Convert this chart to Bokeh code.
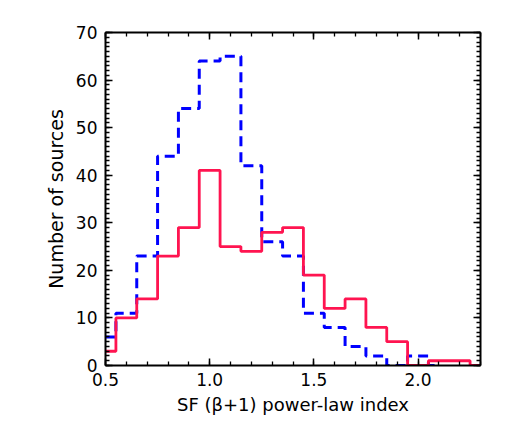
from bokeh.plotting import figure
from bokeh.models import Range1d, LinearAxis, FixedTicker
from bokeh.embed import file_html
from bokeh.resources import INLINE

# ---- data ----
red_centers = [0.5, 0.6, 0.7, 0.8, 0.9, 1.0, 1.1, 1.2, 1.3, 1.4, 1.5, 1.6, 1.7, 1.8, 1.9, 2.0, 2.1, 2.2, 2.3]
red_counts = [3, 10, 14, 23, 29, 41, 25, 24, 28, 29, 19, 12, 14, 8, 5, 0, 1, 1, 0]

blue_centers = [0.5, 0.6, 0.7, 0.8, 0.9, 1.0, 1.1, 1.2, 1.3, 1.4, 1.5, 1.6, 1.7, 1.8, 1.9, 2.0, 2.1]
blue_counts = [6, 11, 23, 44, 54, 64, 65, 42, 26, 23, 11, 8, 4, 2, 0, 2, 0]

x_ticks = [0.5, 1.0, 1.5, 2.0]
x_tick_labels = ["0.5", "1.0", "1.5", "2.0"]
x_minor = [round(0.5 + 0.1 * i, 2) for i in range(19)]
y_ticks = [0, 10, 20, 30, 40, 50, 60, 70]
y_minor = list(range(0, 71))

x_title = "SF (\u03b2+1) power-law index"
y_title = "Number of sources"

FONT = "DejaVu Sans"

p = figure(width=500, height=420, output_backend="svg", toolbar_location=None,
           x_range=Range1d(0.5, 2.3), y_range=Range1d(0, 70),
           x_axis_location=None, y_axis_location=None,
           min_border_left=105, min_border_right=20, min_border_top=32, min_border_bottom=55)
p.grid.visible = False
p.outline_line_color = None
p.background_fill_color = "white"
p.border_fill_color = "white"

p.step(x=blue_centers, y=blue_counts, mode="center", line_color="#0000ff",
       line_width=3, line_dash="10 6")
p.step(x=red_centers, y=red_counts, mode="center", line_color="#ff1450",
       line_width=2.8)

xt = FixedTicker(ticks=x_ticks, minor_ticks=x_minor)
yt = FixedTicker(ticks=y_ticks, minor_ticks=y_minor)


def style(ax, show):
    ax.axis_line_width = 2
    ax.axis_line_color = "black"
    ax.major_tick_in = 7
    ax.major_tick_out = 0
    ax.minor_tick_in = 4
    ax.minor_tick_out = 0
    ax.major_tick_line_width = 1.5
    ax.minor_tick_line_width = 1.3
    ax.major_tick_line_color = "black"
    ax.minor_tick_line_color = "black"
    ax.major_label_text_font = FONT
    ax.major_label_text_font_size = "17px"
    ax.major_label_text_color = "black"
    if show:
        ax.axis_label_text_font = FONT
        ax.axis_label_text_font_style = "normal"
        ax.axis_label_text_color = "black"
    else:
        ax.major_label_standoff = 0


bottom = LinearAxis(ticker=xt, axis_label=x_title,
                    major_label_overrides={t: l for t, l in zip(x_ticks, x_tick_labels)})
style(bottom, True)
bottom.axis_label_text_font_size = "18px"
bottom.major_label_standoff = 7
bottom.axis_label_standoff = 5
p.add_layout(bottom, "below")

left = LinearAxis(ticker=yt, axis_label=y_title)
style(left, True)
left.axis_label_text_font_size = "19px"
left.major_label_standoff = 8
left.axis_label_standoff = 6
p.add_layout(left, "left")

top = LinearAxis(ticker=xt, major_label_overrides={t: "" for t in x_ticks})
style(top, False)
p.add_layout(top, "above")

right = LinearAxis(ticker=yt, major_label_overrides={t: "" for t in y_ticks})
style(right, False)
p.add_layout(right, "right")

open("out.html", "w").write(file_html(p, INLINE))
